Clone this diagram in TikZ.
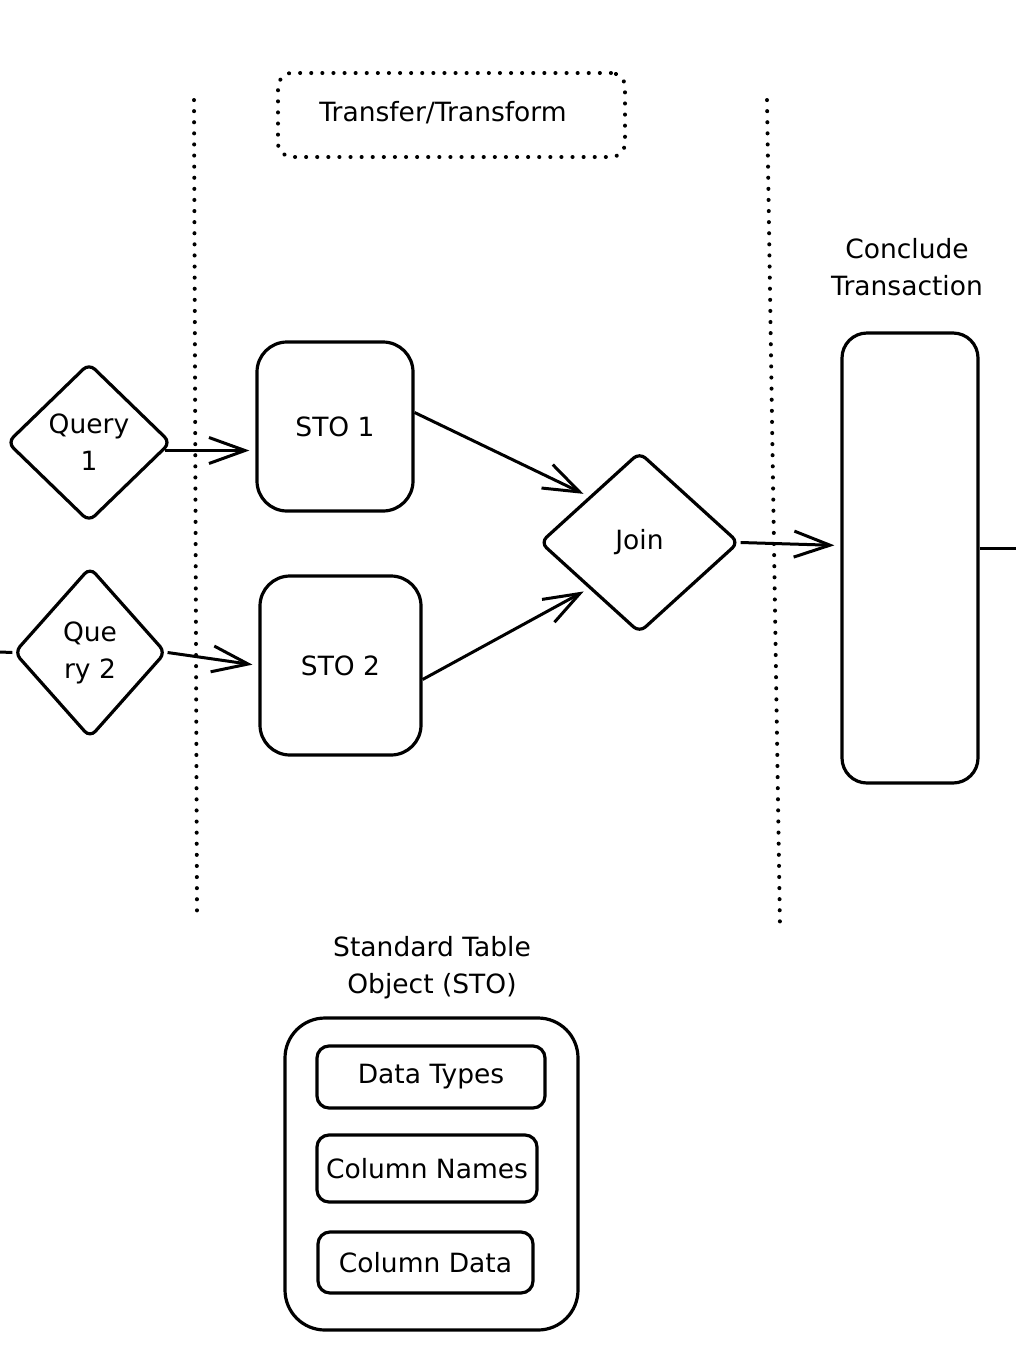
\documentclass[tikz,border=0pt]{standalone}
\usepackage{fontspec}
\setmainfont{DejaVu Sans}
\usetikzlibrary{arrows.meta,shapes.geometric}
\begin{document}
\begin{tikzpicture}[x=1pt,y=-1pt,
  every node/.style={font=\fontsize{26.5}{37}\selectfont, align=center},
  box/.style={draw, line width=3.2pt, rounded corners=#1, inner sep=0pt},
  box/.default=30pt,
  dia/.style={draw, diamond, line width=3.2pt, rounded corners=8pt, inner sep=0pt},
  sep/.style={line width=4pt, line cap=round, dash pattern=on 0.1pt off 11pt},
  conn/.style={line width=3pt, -{Straight Barb[length=36pt,width=26pt,line width=3pt]}, shorten >=6pt},
  plain/.style={line width=3pt}
]
\useasboundingbox (0,0) rectangle (1016,1366);

% separators
\coordinate (s1a) at (194,100);
\coordinate (s1b) at (197,915);
\coordinate (s2a) at (767,100);
\coordinate (s2b) at (780,928);
\draw[sep] (s1a) -- (s1b);
\draw[sep] (s2a) -- (s2b);

% title box
\node[box=14pt, sep, minimum width=347pt, minimum height=84pt] (tt) at (451.5,115) {};
\node (ttl) at (443,113) {Transfer/Transform};

% queries
\node[dia, minimum width=164pt, minimum height=159pt] (q1) at (89,442.5) {Query\\1};
\node[dia, minimum width=152pt, minimum height=171pt] (q2) at (90,652.5) {Que\\ry 2};

% STO boxes
\node[box, minimum width=156pt, minimum height=169pt] (sto1) at (335,426.5) {STO 1};
\node[box, minimum width=161pt, minimum height=179pt] (sto2) at (340.5,665.5) {STO 2};

% join
\node[dia, minimum width=199pt, minimum height=181pt] (join) at (639.5,542.5) {Join};

% conclude
\node (cl) at (907,267) {Conclude\\Transaction};
\node[box=25pt, minimum width=136pt, minimum height=450pt] (conc) at (910,558) {};

% connectors
\coordinate (ql) at (0,652);
\draw[plain] (ql) -- (q2.west);
\draw[conn] ([xshift=-8pt,yshift=-8pt]q1.east) -- ([yshift=-8pt]sto1.west |- q1.east);
\draw[conn] (q2.east) -- (sto2.west);
\draw[conn] ([yshift=14pt]sto1.east) -- (join.north west);
\draw[conn] ([yshift=-14pt]sto2.east) -- (join.south west);
\draw[conn] (join.east) -- ([yshift=-3pt]conc.west |- join.east);
\coordinate (cr) at (1016,548);
\draw[plain] (conc.east |- cr) -- (cr);

% legend
\node (lt) at (432,968) {Standard Table\\Object (STO)};
\node[box=40pt, minimum width=293pt, minimum height=312pt] (outer) at (431.5,1174) {};
\node[box=12pt, minimum width=228pt, minimum height=62pt] (dt) at (431,1077) {Data Types};
\node[box=12pt, minimum width=220pt, minimum height=67pt] (cn) at (427,1168.5) {Column Names};
\node[box=12pt, minimum width=215pt, minimum height=61pt] (cd) at (425.5,1262.5) {Column Data};
\end{tikzpicture}
\end{document}
